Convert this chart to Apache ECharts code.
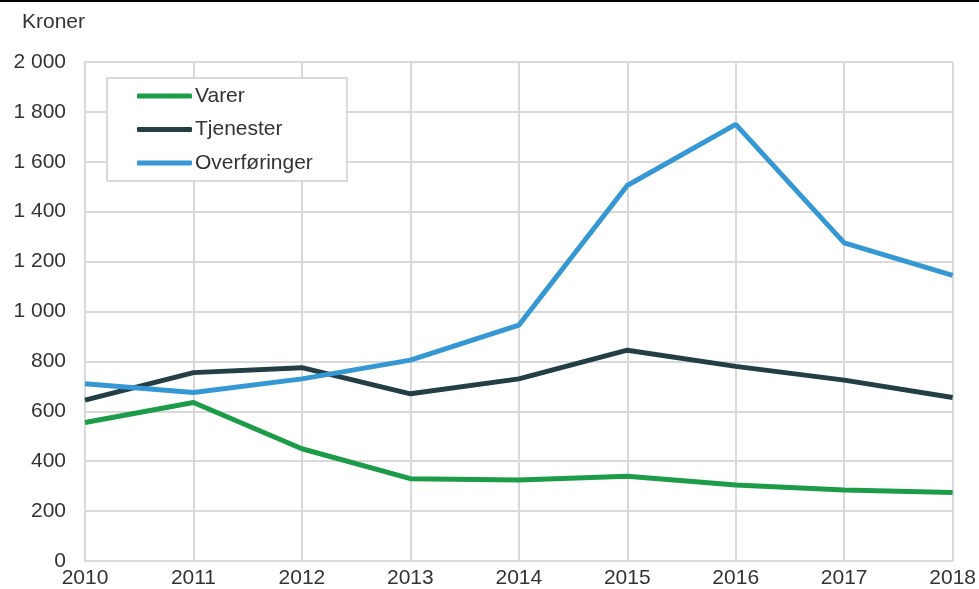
<!DOCTYPE html>
<html>
<head>
<meta charset="utf-8">
<script src="https://cdn.jsdelivr.net/npm/echarts@6/dist/echarts.min.js"></script>
<style>
  html, body { margin: 0; padding: 0; background: #fff; }
  #chart { width: 979px; height: 589px; }
</style>
</head>
<body>
<div id="chart"></div>
<script>
// Data
const years = ['2010', '2011', '2012', '2013', '2014', '2015', '2016', '2017', '2018'];
const varer = [555, 635, 450, 330, 325, 340, 305, 285, 275];
const tjenester = [645, 755, 775, 670, 730, 845, 780, 725, 655];
const overforinger = [710, 675, 730, 805, 945, 1505, 1750, 1275, 1145];

const gridColor = '#d9d9d9';
const font = 'Arial, "Liberation Sans", sans-serif';

const myChart = echarts.init(document.getElementById('chart'));

function makeLine(name, data, color) {
    return {
        name: name,
        type: 'line',
        data: data,
        symbol: 'none',
        lineStyle: { color: color, width: 5 },
        itemStyle: { color: color },
        z: 3
    };
}

const option = {
    animation: false,
    textStyle: { fontFamily: font },
    graphic: [
        {
            type: 'rect',
            shape: { x: 0, y: 0, width: 979, height: 2 },
            style: { fill: '#000' }
        },
        {
            type: 'text',
            left: 22,
            top: 12,
            style: { text: 'Kroner', font: '21px ' + font, fill: '#333' }
        }
    ],
    grid: { left: 85, right: 25, top: 62, bottom: 28 },
    legend: {
        orient: 'vertical',
        left: 107,
        top: 78,
        padding: [6, 34, 6, 30],
        itemGap: 9.5,
        itemWidth: 55,
        itemHeight: 5,
        icon: 'roundRect',
        borderColor: gridColor,
        borderWidth: 2,
        backgroundColor: '#fff',
        textStyle: { fontSize: 21, color: '#333', lineHeight: 24, padding: [0, 0, 0, -2] },
        data: ['Varer', 'Tjenester', 'Overføringer']
    },
    xAxis: {
        type: 'category',
        data: years,
        boundaryGap: false,
        axisLine: { lineStyle: { color: gridColor, width: 2 } },
        axisTick: { show: false },
        axisLabel: { color: '#333', fontSize: 21, margin: 7 },
        splitLine: { show: true, lineStyle: { color: gridColor, width: 2 } }
    },
    yAxis: {
        type: 'value',
        min: 0,
        max: 2000,
        interval: 200,
        axisLine: { show: true, lineStyle: { color: gridColor, width: 2 } },
        axisTick: { show: false },
        axisLabel: {
            color: '#333',
            fontSize: 21,
            margin: 19,
            formatter: v => String(v).replace(/\B(?=(\d{3})+(?!\d))/g, ' ')
        },
        splitLine: { lineStyle: { color: gridColor, width: 2 } }
    },
    series: [
        makeLine('Varer', varer, '#1c9c48'),
        makeLine('Tjenester', tjenester, '#233f45'),
        makeLine('Overføringer', overforinger, '#3597d4')
    ]
};

myChart.setOption(option);
</script>
</body>
</html>
